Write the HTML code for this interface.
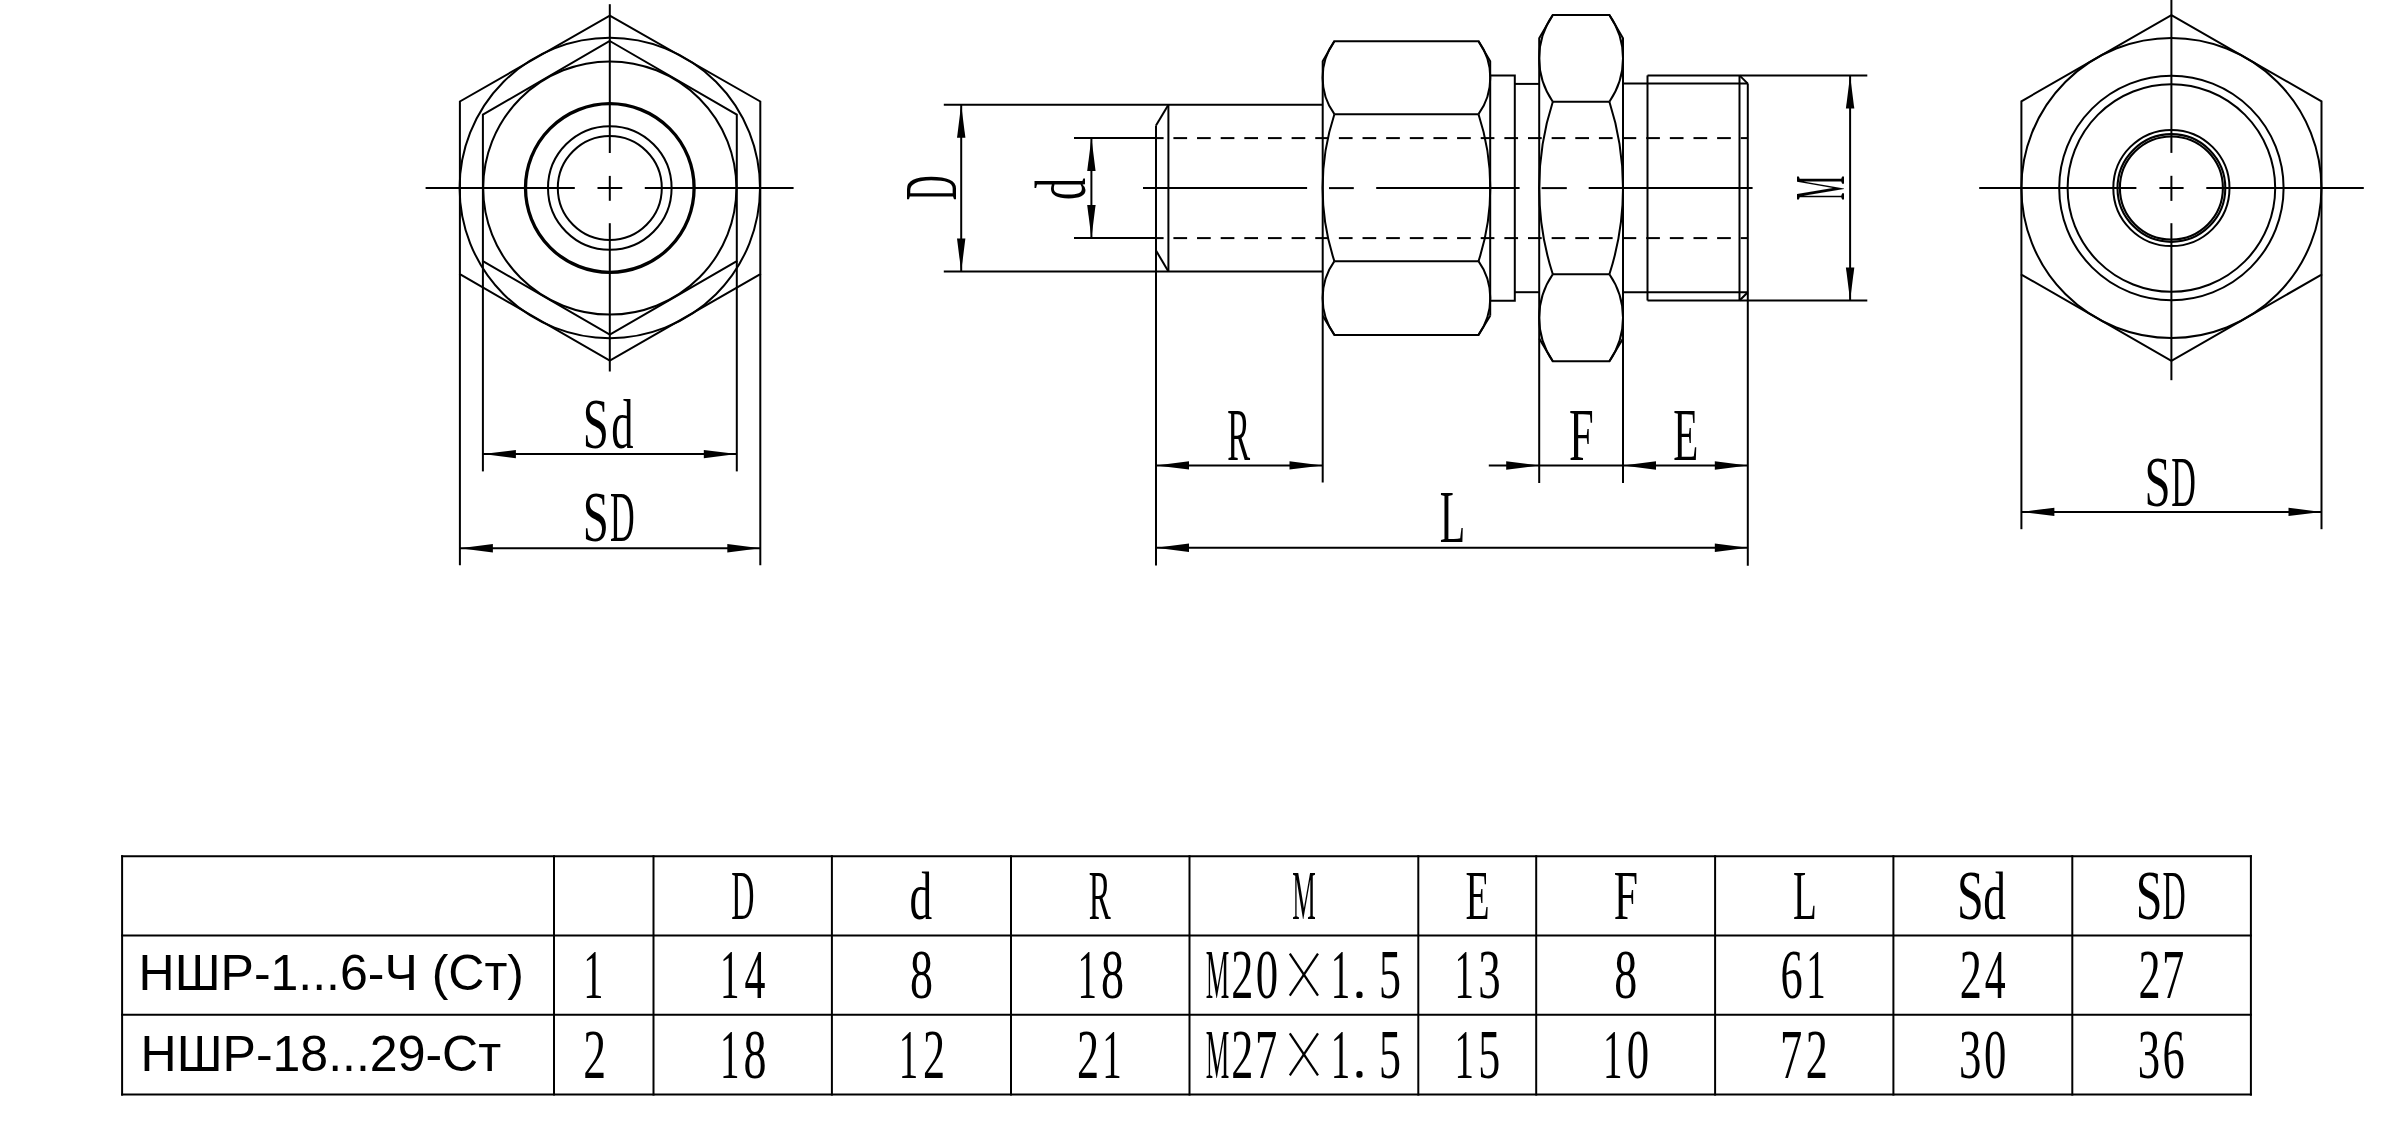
<!DOCTYPE html>
<html><head><meta charset="utf-8"><style>
html,body{margin:0;padding:0;background:#fff;width:2385px;height:1147px;overflow:hidden}
svg{display:block;will-change:transform}
svg line,svg polyline,svg polygon,svg circle,svg path{fill:none;stroke:#000;stroke-width:2}
svg .a{fill:#000;stroke:none}
svg text{font-family:"Liberation Serif",serif;fill:#000;stroke:none}
svg text.s{font-family:"Liberation Sans",sans-serif}
</style></head><body>
<svg width="2385" height="1147" viewBox="0 0 2385 1147">
<rect x="0" y="0" width="2385" height="1147" fill="#fff" stroke="none"/>
<polygon points="609.8,15.7 760.3,101.5 760.3,274.2 609.8,360.5 459.9,274.2 459.9,101.5"/>
<polygon points="609.8,41 736.8,114.6 736.8,261.2 609.8,334.5 482.9,261.2 482.9,114.6"/>
<line x1="459.9" y1="274.2" x2="459.9" y2="565.3"/>
<line x1="760.3" y1="274.2" x2="760.3" y2="565.3"/>
<line x1="482.9" y1="261.2" x2="482.9" y2="471.4"/>
<line x1="736.8" y1="261.2" x2="736.8" y2="471.4"/>
<circle cx="609.8" cy="188" r="150.2"/>
<circle cx="609.8" cy="188" r="126.6"/>
<circle cx="609.8" cy="188" r="84.3" style="stroke-width:3.3"/>
<circle cx="609.8" cy="188" r="61.8"/>
<circle cx="609.8" cy="188" r="52"/>
<line x1="425.6" y1="188" x2="574.8" y2="188"/>
<line x1="597.5" y1="188" x2="622.3" y2="188"/>
<line x1="644.8" y1="188" x2="793.6" y2="188"/>
<line x1="609.8" y1="4.2" x2="609.8" y2="153"/>
<line x1="609.8" y1="175.9" x2="609.8" y2="200.8"/>
<line x1="609.8" y1="223.2" x2="609.8" y2="371.5"/>
<line x1="482.9" y1="454.1" x2="736.8" y2="454.1"/>
<polygon class="a" points="482.9,454.1 515.9,449.9 515.9,458.3"/>
<polygon class="a" points="736.8,454.1 703.8,458.3 703.8,449.9"/>
<line x1="459.9" y1="548.2" x2="760.3" y2="548.2"/>
<polygon class="a" points="459.9,548.2 492.9,544 492.9,552.4"/>
<polygon class="a" points="760.3,548.2 727.3,552.4 727.3,544"/>
<text transform="translate(582.86 447.6) scale(0.6459 1)" font-size="72.52">S</text>
<text transform="translate(611.35 447.6) scale(0.6332 1)" font-size="70.23">d</text>
<text transform="translate(582.86 541.3) scale(0.6459 1)" font-size="72.52">S</text>
<text transform="translate(610.06 541.3) scale(0.4759 1)" font-size="71.76">D</text>
<line x1="943.8" y1="104.8" x2="1322.5" y2="104.8"/>
<line x1="943.8" y1="271.6" x2="1322.5" y2="271.6"/>
<line x1="961.2" y1="104.8" x2="961.2" y2="271.6"/>
<polygon class="a" points="961.2,104.8 965.4,137.8 957,137.8"/>
<polygon class="a" points="961.2,271.6 957,238.6 965.4,238.6"/>
<text transform="translate(955.8 200.19) rotate(-90) scale(0.4623 1)" font-size="74.2">D</text>
<line x1="1074" y1="138.1" x2="1155.9" y2="138.1"/>
<line x1="1074" y1="238.1" x2="1155.9" y2="238.1"/>
<line x1="1091.4" y1="138.1" x2="1091.4" y2="238.1"/>
<polygon class="a" points="1091.4,138.1 1095.6,171.1 1087.2,171.1"/>
<polygon class="a" points="1091.4,238.1 1087.2,205.1 1095.6,205.1"/>
<text transform="translate(1084.8 199.99) rotate(-90) scale(0.6193 1)" font-size="71.45">d</text>
<line x1="1156" y1="125.5" x2="1156" y2="565.4"/>
<line x1="1156" y1="125.5" x2="1168.4" y2="104.8"/>
<line x1="1156" y1="250.5" x2="1168.4" y2="271.6"/>
<line x1="1168.4" y1="104.8" x2="1168.4" y2="271.6"/>
<line x1="1155.9" y1="138.1" x2="1163.6" y2="138.1"/>
<line x1="1173.4" y1="138.1" x2="1187.1" y2="138.1"/>
<line x1="1197.04" y1="138.1" x2="1210.74" y2="138.1"/>
<line x1="1220.68" y1="138.1" x2="1234.38" y2="138.1"/>
<line x1="1244.32" y1="138.1" x2="1258.02" y2="138.1"/>
<line x1="1267.96" y1="138.1" x2="1281.66" y2="138.1"/>
<line x1="1291.6" y1="138.1" x2="1305.3" y2="138.1"/>
<line x1="1315.24" y1="138.1" x2="1328.94" y2="138.1"/>
<line x1="1338.88" y1="138.1" x2="1352.58" y2="138.1"/>
<line x1="1362.52" y1="138.1" x2="1376.22" y2="138.1"/>
<line x1="1386.16" y1="138.1" x2="1399.86" y2="138.1"/>
<line x1="1409.8" y1="138.1" x2="1423.5" y2="138.1"/>
<line x1="1433.44" y1="138.1" x2="1447.14" y2="138.1"/>
<line x1="1457.08" y1="138.1" x2="1470.78" y2="138.1"/>
<line x1="1480.72" y1="138.1" x2="1494.42" y2="138.1"/>
<line x1="1504.36" y1="138.1" x2="1518.06" y2="138.1"/>
<line x1="1528" y1="138.1" x2="1541.7" y2="138.1"/>
<line x1="1551.64" y1="138.1" x2="1565.34" y2="138.1"/>
<line x1="1575.28" y1="138.1" x2="1588.98" y2="138.1"/>
<line x1="1598.92" y1="138.1" x2="1612.62" y2="138.1"/>
<line x1="1622.56" y1="138.1" x2="1636.26" y2="138.1"/>
<line x1="1646.2" y1="138.1" x2="1659.9" y2="138.1"/>
<line x1="1669.84" y1="138.1" x2="1683.54" y2="138.1"/>
<line x1="1693.48" y1="138.1" x2="1707.18" y2="138.1"/>
<line x1="1717.12" y1="138.1" x2="1730.82" y2="138.1"/>
<line x1="1740.76" y1="138.1" x2="1747.8" y2="138.1"/>
<line x1="1155.9" y1="238.1" x2="1163.6" y2="238.1"/>
<line x1="1173.4" y1="238.1" x2="1187.1" y2="238.1"/>
<line x1="1197.04" y1="238.1" x2="1210.74" y2="238.1"/>
<line x1="1220.68" y1="238.1" x2="1234.38" y2="238.1"/>
<line x1="1244.32" y1="238.1" x2="1258.02" y2="238.1"/>
<line x1="1267.96" y1="238.1" x2="1281.66" y2="238.1"/>
<line x1="1291.6" y1="238.1" x2="1305.3" y2="238.1"/>
<line x1="1315.24" y1="238.1" x2="1328.94" y2="238.1"/>
<line x1="1338.88" y1="238.1" x2="1352.58" y2="238.1"/>
<line x1="1362.52" y1="238.1" x2="1376.22" y2="238.1"/>
<line x1="1386.16" y1="238.1" x2="1399.86" y2="238.1"/>
<line x1="1409.8" y1="238.1" x2="1423.5" y2="238.1"/>
<line x1="1433.44" y1="238.1" x2="1447.14" y2="238.1"/>
<line x1="1457.08" y1="238.1" x2="1470.78" y2="238.1"/>
<line x1="1480.72" y1="238.1" x2="1494.42" y2="238.1"/>
<line x1="1504.36" y1="238.1" x2="1518.06" y2="238.1"/>
<line x1="1528" y1="238.1" x2="1541.7" y2="238.1"/>
<line x1="1551.64" y1="238.1" x2="1565.34" y2="238.1"/>
<line x1="1575.28" y1="238.1" x2="1588.98" y2="238.1"/>
<line x1="1598.92" y1="238.1" x2="1612.62" y2="238.1"/>
<line x1="1622.56" y1="238.1" x2="1636.26" y2="238.1"/>
<line x1="1646.2" y1="238.1" x2="1659.9" y2="238.1"/>
<line x1="1669.84" y1="238.1" x2="1683.54" y2="238.1"/>
<line x1="1693.48" y1="238.1" x2="1707.18" y2="238.1"/>
<line x1="1717.12" y1="238.1" x2="1730.82" y2="238.1"/>
<line x1="1740.76" y1="238.1" x2="1747.8" y2="238.1"/>
<line x1="1143" y1="188.1" x2="1307.1" y2="188.1"/>
<line x1="1329" y1="188.1" x2="1353.8" y2="188.1"/>
<line x1="1376.2" y1="188.1" x2="1519.6" y2="188.1"/>
<line x1="1541.6" y1="188.1" x2="1566.8" y2="188.1"/>
<line x1="1588.7" y1="188.1" x2="1752.6" y2="188.1"/>
<polyline points="1322.7,482.6 1322.7,61.2 1334.4,41.2 1478.5,41.2 1490.2,61.2 1490.2,315.7"/>
<polyline points="1322.7,315.7 1334.4,334.9 1478.5,334.9 1490.2,315.7"/>
<line x1="1334.4" y1="114.2" x2="1478.5" y2="114.2"/>
<line x1="1334.4" y1="261.2" x2="1478.5" y2="261.2"/>
<path d="M1334.4 41.2A62.35 62.35 0 0 0 1334.4 114.2"/>
<path d="M1478.5 41.2A62.35 62.35 0 0 1 1478.5 114.2"/>
<path d="M1334.4 114.2A234.81 234.81 0 0 0 1334.4 261.2"/>
<path d="M1478.5 114.2A234.81 234.81 0 0 1 1478.5 261.2"/>
<path d="M1334.4 261.2A63.44 63.44 0 0 0 1334.4 334.9"/>
<path d="M1478.5 261.2A63.44 63.44 0 0 1 1478.5 334.9"/>
<polyline points="1490.2,75.6 1514.8,75.6 1514.8,300.7 1490.2,300.7"/>
<line x1="1514.8" y1="83.9" x2="1539.2" y2="83.9"/>
<line x1="1514.8" y1="292.2" x2="1539.2" y2="292.2"/>
<polyline points="1539.2,482.9 1539.2,38.3 1552.8,15 1609.4,15 1623,38.3 1623,482.9"/>
<polyline points="1539.2,338.4 1552.8,361.3 1609.4,361.3 1623,338.4"/>
<line x1="1552.8" y1="101.7" x2="1609.4" y2="101.7"/>
<line x1="1552.8" y1="274.3" x2="1609.4" y2="274.3"/>
<path d="M1552.8 15A75.89 75.89 0 0 0 1552.8 101.7"/>
<path d="M1609.4 15A75.89 75.89 0 0 1 1609.4 101.7"/>
<path d="M1552.8 101.7A280.61 280.61 0 0 0 1552.8 274.3"/>
<path d="M1609.4 101.7A280.61 280.61 0 0 1 1609.4 274.3"/>
<path d="M1552.8 274.3A76.37 76.37 0 0 0 1552.8 361.3"/>
<path d="M1609.4 274.3A76.37 76.37 0 0 1 1609.4 361.3"/>
<line x1="1647.5" y1="75.4" x2="1867.3" y2="75.4"/>
<line x1="1647.5" y1="300.5" x2="1867.3" y2="300.5"/>
<line x1="1647.5" y1="75.4" x2="1647.5" y2="300.5"/>
<line x1="1623" y1="83.6" x2="1747.8" y2="83.6"/>
<line x1="1623" y1="292.2" x2="1747.8" y2="292.2"/>
<line x1="1739.5" y1="75.4" x2="1739.5" y2="300.5"/>
<line x1="1739.5" y1="75.4" x2="1747.8" y2="83.6"/>
<line x1="1739.5" y1="300.5" x2="1747.8" y2="292.2"/>
<line x1="1747.8" y1="83.6" x2="1747.8" y2="565.7"/>
<line x1="1850.1" y1="75.4" x2="1850.1" y2="300.5"/>
<polygon class="a" points="1850.1,75.4 1854.3,108.4 1845.9,108.4"/>
<polygon class="a" points="1850.1,300.5 1845.9,267.5 1854.3,267.5"/>
<text transform="translate(1844.2 200.3) rotate(-90) scale(0.3809 1)" font-size="72.67">M</text>
<line x1="1156" y1="465.4" x2="1322.5" y2="465.4"/>
<polygon class="a" points="1156,465.4 1189,461.2 1189,469.6"/>
<polygon class="a" points="1322.5,465.4 1289.5,469.6 1289.5,461.2"/>
<text transform="translate(1227.31 460.1) scale(0.4631 1)" font-size="73.89">R</text>
<line x1="1488.8" y1="465.5" x2="1747.8" y2="465.5"/>
<polygon class="a" points="1539.2,465.5 1506.2,469.7 1506.2,461.3"/>
<polygon class="a" points="1623,465.5 1656,461.3 1656,469.7"/>
<polygon class="a" points="1747.8,465.5 1714.8,469.7 1714.8,461.3"/>
<text transform="translate(1568.91 460.2) scale(0.5959 1)" font-size="74.5">F</text>
<text transform="translate(1673.31 460.2) scale(0.5500 1)" font-size="74.5">E</text>
<line x1="1156" y1="547.8" x2="1747.8" y2="547.8"/>
<polygon class="a" points="1156,547.8 1189,543.6 1189,552"/>
<polygon class="a" points="1747.8,547.8 1714.8,552 1714.8,543.6"/>
<text transform="translate(1439.79 542.4) scale(0.5652 1)" font-size="73.89">L</text>
<polygon points="2171.4,15.2 2321.5,101.3 2321.5,274.6 2171.4,360.9 2021.4,274.6 2021.4,101.3"/>
<line x1="2021.4" y1="274.6" x2="2021.4" y2="529.2"/>
<line x1="2321.5" y1="274.6" x2="2321.5" y2="529.2"/>
<circle cx="2171.4" cy="188" r="150"/>
<circle cx="2171.4" cy="188" r="112.2"/>
<circle cx="2171.4" cy="188" r="103.8"/>
<circle cx="2171.4" cy="188" r="58.1"/>
<circle cx="2171.4" cy="188" r="53.9" style="stroke-width:2.1"/>
<circle cx="2171.4" cy="188" r="51.5" style="stroke-width:2.1"/>
<line x1="1979.2" y1="188" x2="2136.4" y2="188"/>
<line x1="2159.4" y1="188" x2="2183.6" y2="188"/>
<line x1="2206.3" y1="188" x2="2363.8" y2="188"/>
<line x1="2171.4" y1="0" x2="2171.4" y2="152.9"/>
<line x1="2171.4" y1="175.8" x2="2171.4" y2="200.9"/>
<line x1="2171.4" y1="223.2" x2="2171.4" y2="380.2"/>
<line x1="2021.4" y1="511.9" x2="2321.5" y2="511.9"/>
<polygon class="a" points="2021.4,511.9 2054.4,507.7 2054.4,516.1"/>
<polygon class="a" points="2321.5,511.9 2288.5,516.1 2288.5,507.7"/>
<text transform="translate(2144.56 505.6) scale(0.6459 1)" font-size="72.52">S</text>
<text transform="translate(2171.36 505.6) scale(0.4759 1)" font-size="71.76">D</text>
<line x1="121.1" y1="856.2" x2="2251.9" y2="856.2"/>
<line x1="121.1" y1="935.6" x2="2251.9" y2="935.6"/>
<line x1="121.1" y1="1014.8" x2="2251.9" y2="1014.8"/>
<line x1="121.1" y1="1094.6" x2="2251.9" y2="1094.6"/>
<line x1="122.1" y1="855.2" x2="122.1" y2="1095.6"/>
<line x1="554" y1="855.2" x2="554" y2="1095.6"/>
<line x1="653.5" y1="855.2" x2="653.5" y2="1095.6"/>
<line x1="831.9" y1="855.2" x2="831.9" y2="1095.6"/>
<line x1="1011" y1="855.2" x2="1011" y2="1095.6"/>
<line x1="1189.5" y1="855.2" x2="1189.5" y2="1095.6"/>
<line x1="1418.3" y1="855.2" x2="1418.3" y2="1095.6"/>
<line x1="1536.2" y1="855.2" x2="1536.2" y2="1095.6"/>
<line x1="1715.1" y1="855.2" x2="1715.1" y2="1095.6"/>
<line x1="1893.4" y1="855.2" x2="1893.4" y2="1095.6"/>
<line x1="2072.3" y1="855.2" x2="2072.3" y2="1095.6"/>
<line x1="2250.9" y1="855.2" x2="2250.9" y2="1095.6"/>
<text transform="translate(731.27 919) scale(0.4630 1)" font-size="69.47">D</text>
<text transform="translate(720.08 998.2) scale(0.5603 1)" font-size="69.47">1</text>
<text transform="translate(744.51 998.2) scale(0.6019 1)" font-size="69.47">4</text>
<text transform="translate(720.08 1077.9) scale(0.5603 1)" font-size="69.47">1</text>
<text transform="translate(743.55 1077.9) scale(0.6621 1)" font-size="69.47">8</text>
<text transform="translate(909.57 919) scale(0.6798 1)" font-size="66.72">d</text>
<text transform="translate(909.95 998.2) scale(0.6621 1)" font-size="69.47">8</text>
<text transform="translate(898.83 1077.9) scale(0.5603 1)" font-size="69.47">1</text>
<text transform="translate(923.01 1077.9) scale(0.6354 1)" font-size="69.47">2</text>
<text transform="translate(1088.79 919) scale(0.4746 1)" font-size="69.47">R</text>
<text transform="translate(1077.62 998.2) scale(0.5603 1)" font-size="69.47">1</text>
<text transform="translate(1101.1 998.2) scale(0.6621 1)" font-size="69.47">8</text>
<text transform="translate(1077.11 1077.9) scale(0.6354 1)" font-size="69.47">2</text>
<text transform="translate(1102.32 1077.9) scale(0.5603 1)" font-size="69.47">1</text>
<text transform="translate(1292.13 919) scale(0.3811 1)" font-size="69.47">M</text>
<text transform="translate(1205.68 998.2) scale(0.3811 1)" font-size="69.47">M</text>
<text transform="translate(1231.36 998.2) scale(0.6354 1)" font-size="69.47">2</text>
<text transform="translate(1255.65 998.2) scale(0.6451 1)" font-size="69.47">0</text>
<line x1="1289.8" y1="953.7" x2="1318" y2="995.7" style="stroke-width:2.3"/>
<line x1="1318" y1="953.7" x2="1289.8" y2="995.7" style="stroke-width:2.3"/>
<text transform="translate(1330.68 998.2) scale(0.5603 1)" font-size="69.47">1</text>
<rect class="a" x="1356.35" y="991.4" width="6.2" height="6.6" rx="2.6"/>
<text transform="translate(1378.95 998.2) scale(0.6323 1)" font-size="69.47">5</text>
<text transform="translate(1205.68 1077.9) scale(0.3811 1)" font-size="69.47">M</text>
<text transform="translate(1231.36 1077.9) scale(0.6354 1)" font-size="69.47">2</text>
<text transform="translate(1254.92 1077.9) scale(0.6398 1)" font-size="69.47">7</text>
<line x1="1289.8" y1="1033.4" x2="1318" y2="1075.4" style="stroke-width:2.3"/>
<line x1="1318" y1="1033.4" x2="1289.8" y2="1075.4" style="stroke-width:2.3"/>
<text transform="translate(1330.68 1077.9) scale(0.5603 1)" font-size="69.47">1</text>
<rect class="a" x="1356.35" y="1071.1" width="6.2" height="6.6" rx="2.6"/>
<text transform="translate(1378.95 1077.9) scale(0.6323 1)" font-size="69.47">5</text>
<text transform="translate(1465.61 919) scale(0.5682 1)" font-size="69.47">E</text>
<text transform="translate(1454.62 998.2) scale(0.5603 1)" font-size="69.47">1</text>
<text transform="translate(1478.2 998.2) scale(0.6448 1)" font-size="69.47">3</text>
<text transform="translate(1454.62 1077.9) scale(0.5603 1)" font-size="69.47">1</text>
<text transform="translate(1478.2 1077.9) scale(0.6323 1)" font-size="69.47">5</text>
<text transform="translate(1613.69 919) scale(0.6274 1)" font-size="69.47">F</text>
<text transform="translate(1614.15 998.2) scale(0.6621 1)" font-size="69.47">8</text>
<text transform="translate(1603.02 1077.9) scale(0.5603 1)" font-size="69.47">1</text>
<text transform="translate(1626.8 1077.9) scale(0.6451 1)" font-size="69.47">0</text>
<text transform="translate(1792.92 919) scale(0.5626 1)" font-size="69.47">L</text>
<text transform="translate(1780.49 998.2) scale(0.6406 1)" font-size="69.47">6</text>
<text transform="translate(1806.32 998.2) scale(0.5603 1)" font-size="69.47">1</text>
<text transform="translate(1779.97 1077.9) scale(0.6398 1)" font-size="69.47">7</text>
<text transform="translate(1805.81 1077.9) scale(0.6354 1)" font-size="69.47">2</text>
<text transform="translate(1957.03 919) scale(0.6911 1)" font-size="69.47">S</text>
<text transform="translate(1983.32 919) scale(0.6798 1)" font-size="66.72">d</text>
<text transform="translate(1959.71 998.2) scale(0.6354 1)" font-size="69.47">2</text>
<text transform="translate(1984.66 998.2) scale(0.6019 1)" font-size="69.47">4</text>
<text transform="translate(1959.1 1077.9) scale(0.6448 1)" font-size="69.47">3</text>
<text transform="translate(1984 1077.9) scale(0.6451 1)" font-size="69.47">0</text>
<text transform="translate(2135.78 919) scale(0.6911 1)" font-size="69.47">S</text>
<text transform="translate(2162.52 919) scale(0.4630 1)" font-size="69.47">D</text>
<text transform="translate(2138.46 998.2) scale(0.6354 1)" font-size="69.47">2</text>
<text transform="translate(2162.02 998.2) scale(0.6398 1)" font-size="69.47">7</text>
<text transform="translate(2137.85 1077.9) scale(0.6448 1)" font-size="69.47">3</text>
<text transform="translate(2162.54 1077.9) scale(0.6406 1)" font-size="69.47">6</text>
<text transform="translate(583.35 998.2) scale(0.5707 1)" font-size="70.69">1</text>
<text transform="translate(583.34 1077.9) scale(0.6527 1)" font-size="69.92">2</text>
<text class="s" x="138.6" y="990.2" font-size="50">НШР-1...6-Ч (Ст)</text>
<text class="s" x="140.6" y="1070.6" font-size="50">НШР-18...29-Ст</text>
</svg>
</body></html>
